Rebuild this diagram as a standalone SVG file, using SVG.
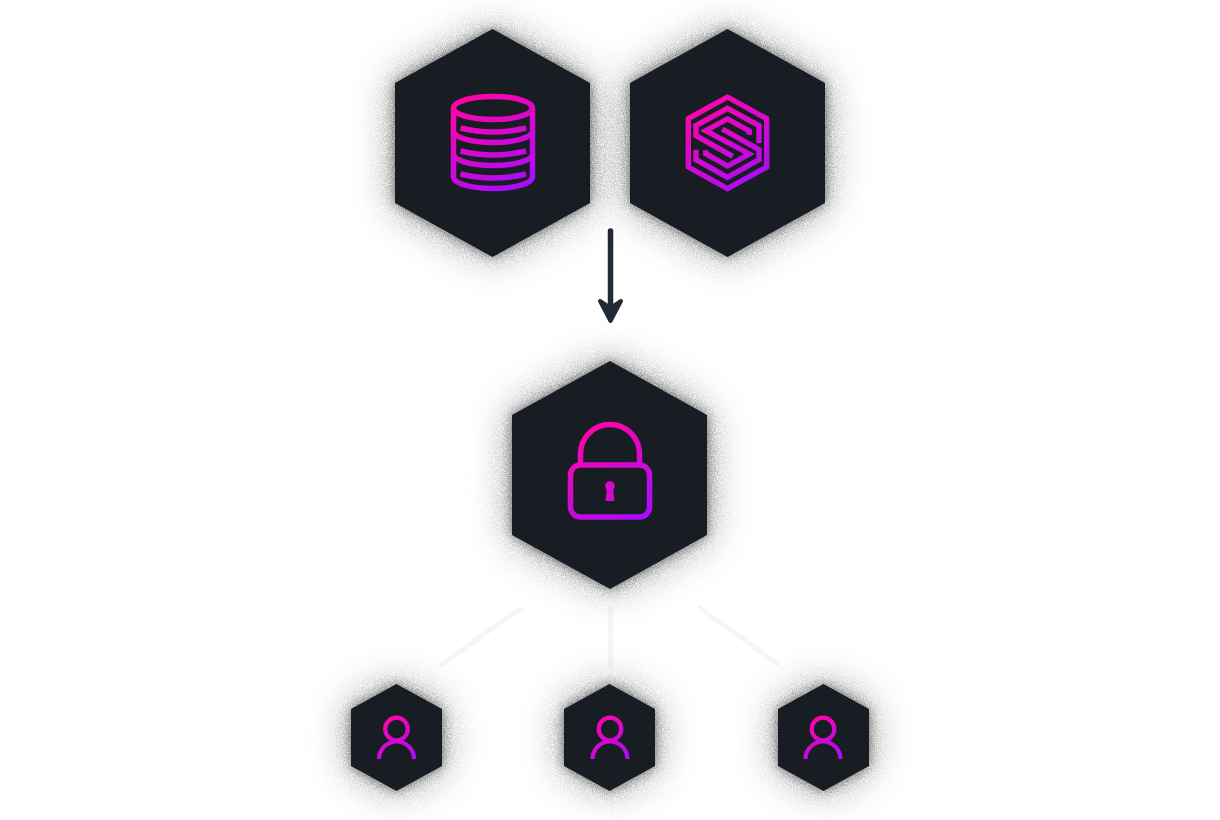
<svg xmlns="http://www.w3.org/2000/svg" width="1220" height="820" viewBox="0 0 1220 820">
<style>
.hex{fill:#181c23;filter:url(#dissolve)}
.i{fill:none;stroke-width:5.5}
.u{fill:none;stroke-width:4.2}
.link{stroke:#f5f6f8;stroke-width:5;stroke-linecap:round;fill:none}
</style>
<defs>
<filter id="dissolve" x="-60%" y="-60%" width="220%" height="220%" color-interpolation-filters="sRGB">
<feGaussianBlur in="SourceAlpha" stdDeviation="20" result="b"/>
<feTurbulence type="fractalNoise" baseFrequency="1.1" numOctaves="2" seed="4" result="n"/>
<feColorMatrix in="n" type="matrix" values="0 0 0 0 0 0 0 0 0 0 0 0 0 0 0 1.8 0 0 0 -0.35" result="na"/>
<feComposite in="b" in2="na" operator="arithmetic" k1="0.75" k2="0" k3="0" k4="0" result="sh"/>
<feGaussianBlur in="SourceAlpha" stdDeviation="6" result="t"/>
<feComponentTransfer in="t" result="tight"><feFuncA type="linear" slope="0.5"/></feComponentTransfer>
<feMerge><feMergeNode in="sh"/><feMergeNode in="tight"/><feMergeNode in="SourceGraphic"/></feMerge>
</filter>
<linearGradient id="g1" gradientUnits="userSpaceOnUse" x1="472" y1="95" x2="522" y2="192"><stop offset="0" stop-color="#ff05a6"/><stop offset="1" stop-color="#a50dff"/></linearGradient>
<linearGradient id="g3" gradientUnits="userSpaceOnUse" x1="592" y1="422" x2="648" y2="520"><stop offset="0" stop-color="#ff05a6"/><stop offset="1" stop-color="#a50dff"/></linearGradient>
<linearGradient id="g4" gradientUnits="userSpaceOnUse" x1="-8" y1="-14" x2="18" y2="30"><stop offset="0" stop-color="#ff05a6"/><stop offset="1" stop-color="#a50dff"/></linearGradient>
<linearGradient id="g5" gradientUnits="userSpaceOnUse" x1="60" y1="6" x2="225" y2="297"><stop offset="0" stop-color="#ff05a6"/><stop offset="1" stop-color="#a50dff"/></linearGradient>
<g id="user"><circle class="u" cx="0" cy="0" r="11.3" stroke="url(#g4)"/><path class="u" d="M-17.5,30A17.5,17.5 0 0 1 17.5,30" stroke="url(#g4)"/></g>
</defs>
<rect width="1220" height="820" fill="#fff"/>
<g id="connectors">
<path class="link" d="M520,609L442,664"/>
<path class="link" d="M610.5,609V664"/>
<path class="link" d="M700,608L778,664"/>
<path d="M610.5,231V316" stroke="#222a35" stroke-width="5.500" stroke-linecap="round" fill="none"/>
<path d="M600,301L610.5,308L621,301L610.5,321Z" fill="#222a35" stroke="#222a35" stroke-width="4" stroke-linejoin="round"/>
</g>
<g id="node-db">
<polygon class="hex" points="492.5,29 590,83 590,203 492.5,257 395,203 395,83"/>
<g class="i" stroke="url(#g1)">
<ellipse cx="493" cy="108" rx="39.5" ry="11.5"/>
<path d="M453.5,108V177A39.5,11.5 0 0 0 532.500,177V108"/>
<path d="M453.5,131A39.5,11.5 0 0 0 532.500,131M453.5,154A39.500,11.5 0 0 0 532.500,154"/>
<path d="M460.500,128Q493,136 526,128M460.500,151Q493,159 526,151M460.500,174Q493,182 526,174"/>
</g>
</g>
<g id="node-s">
<polygon class="hex" points="727.5,29 825,83 825,203 727.500,257 630,203 630,83"/>
<g transform="translate(685,93) scale(.33333)" fill="none" stroke="url(#g5)" stroke-width="16">
<path d="M127.500,12L245,77V222L127.500,287L10,222V77Z"/>
<path d="M222,150V98L127.500,46L33,98V128L143,190"/>
<path d="M193,125V114L127.500,78L62,113L193,183L127.500,219L62,182V172"/>
<path d="M112,108L222,170V200L127.500,253L33,200V170"/>
</g>
</g>
<g id="node-lock">
<polygon class="hex" points="610,361 707,415 707,535 610,589 512,535 512,415"/>
<g class="i" stroke="url(#g3)">
<rect x="570.500" y="465" width="79" height="52" rx="10"/>
<path d="M580.500,464V454A29.5,29.5 0 0 1 639.500,454V464"/>
</g>
<circle cx="610" cy="486" r="4.8" fill="#d408cf"/>
<path d="M607,487H613L614.500,501H605.500Z" fill="#d408cf"/>
</g>
<g id="user-1"><polygon class="hex" points="396.500,684 442,709 442,766 396.500,791 351,766 351,709"/><use href="#user" x="396.500" y="729"/></g>
<g id="user-2"><polygon class="hex" points="609.500,684 655,709 655,766 609.500,791 564,766 564,709"/><use href="#user" x="610" y="729"/></g>
<g id="user-3"><polygon class="hex" points="823.500,684 869,709 869,766 823.500,791 778,766 778,709"/><use href="#user" x="823" y="729"/></g>
</svg>
